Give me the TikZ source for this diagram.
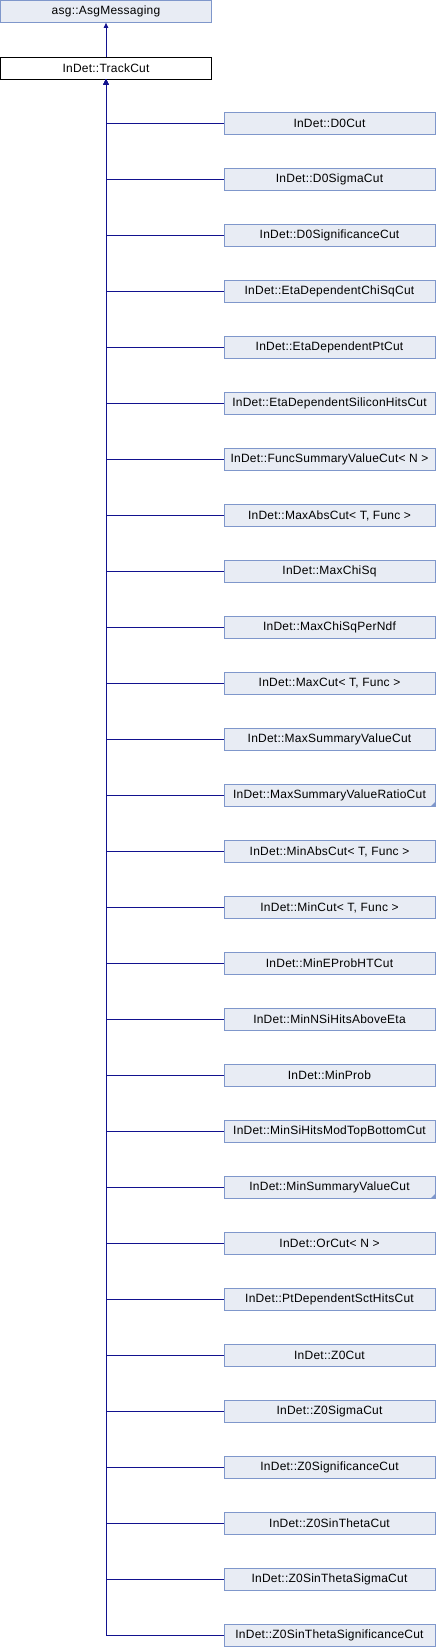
\documentclass[tikz,border=0pt]{standalone}
\usepackage{fontspec}
\setmainfont{Liberation Sans}[LetterSpace=2]
\usetikzlibrary{arrows.meta}
\definecolor{boxfill}{HTML}{E8ECF4}
\definecolor{boxline}{HTML}{7F97CB}
\definecolor{edgecol}{HTML}{12128F}
\tikzset{
  cls/.style={draw=boxline, fill=boxfill, line width=0.8pt, minimum width=211pt, minimum height=22pt, inner sep=0pt, font=\fontsize{12}{14}\selectfont},
  cur/.style={draw=black, fill=white, line width=0.8pt, minimum width=211pt, minimum height=22pt, inner sep=0pt, font=\fontsize{12}{14}\selectfont},
  inh/.style={draw=edgecol, line width=0.8pt},
  inharrow/.style={inh, -{Triangle[width=4.5pt,length=5pt]}},
  truncated/.style={path picture={\fill[boxline] (path picture bounding box.south east) -- ++(-4.5pt,0) -- ++(4.5pt,4.5pt) -- cycle;}}
}
\begin{document}
\begin{tikzpicture}[x=1pt,y=-1pt]
\useasboundingbox (0,0) rectangle (436,1648);
\node[cls] (base) at (106,11.5) {asg::AsgMessaging};
\node[cur] (track) at (106,68) {InDet::TrackCut};
\draw[inharrow] (track.north) -- (base.south);
\foreach \i/\t/\e in {
0/D0Cut/,
1/D0SigmaCut/,
2/D0SignificanceCut/,
3/EtaDependentChiSqCut/,
4/EtaDependentPtCut/,
5/EtaDependentSiliconHitsCut/,
6/FuncSummaryValueCut< N >/,
7/MaxAbsCut< T{,} Func >/,
8/MaxChiSq/,
9/MaxChiSqPerNdf/,
10/MaxCut< T{,} Func >/,
11/MaxSummaryValueCut/,
12/MaxSummaryValueRatioCut/truncated,
13/MinAbsCut< T{,} Func >/,
14/MinCut< T{,} Func >/,
15/MinEProbHTCut/,
16/MinNSiHitsAboveEta/,
17/MinProb/,
18/MinSiHitsModTopBottomCut/,
19/MinSummaryValueCut/truncated,
20/OrCut< N >/,
21/PtDependentSctHitsCut/,
22/Z0Cut/,
23/Z0SigmaCut/,
24/Z0SignificanceCut/,
25/Z0SinThetaCut/,
26/Z0SinThetaSigmaCut/,
27/Z0SinThetaSignificanceCut/}
{
  \node[cls,\e] (c\i) at (329.5,123.5+56*\i) {InDet::\t};
  \draw[inharrow] (c\i.west) -| (track.south);
}
\end{tikzpicture}
\end{document}
